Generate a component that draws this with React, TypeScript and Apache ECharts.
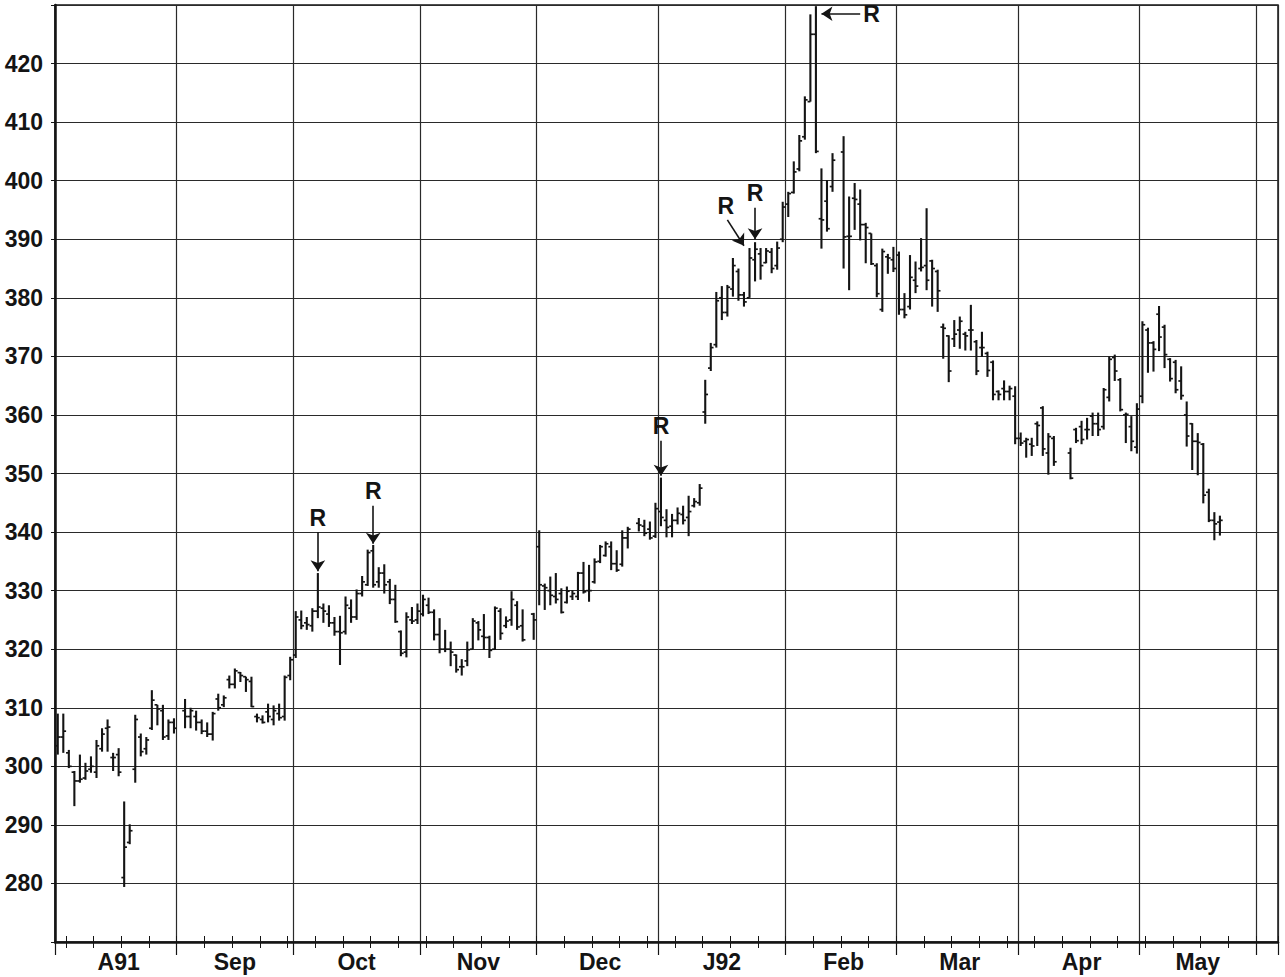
import React, { useEffect, useRef } from "react";
import * as echarts from "echarts";

type Bar = [number, number, number, number] | null; // open, high, low, close

const monthNames = ["A91", "Sep", "Oct", "Nov", "Dec", "J92", "Feb", "Mar", "Apr", "May", ""];

const aug: Bar[] = [
  [303.5, 309, 302, 305], [305, 309, 302.3, 306], [302.3, 302.8, 299.7, 300], [299, 299.2, 293.2, 297.5],
  [297.5, 302, 297.2, 297.8], [298, 300.6, 297.7, 299.2], [299.5, 301.7, 298.9, 300], [299, 304.5, 298, 303.5],
  [303, 306.5, 302.5, 305.5], [306.5, 308, 302.5, 306.7], [301.5, 302.3, 299.2, 301.5], [302, 303.1, 298.3, 299],
  [281, 294, 279.4, 286.2], [287, 290.1, 286.7, 289], [299.5, 308.8, 297.2, 308], [305, 305.6, 301.7, 302.5],
  [303, 305, 302, 304.5], [306.5, 313, 306.2, 311.3], [310.5, 310.5, 307, 309.8], [309.5, 310.5, 304.5, 305],
  [305.2, 308, 304.5, 307.5], [307.5, 308.2, 305.6, 306.5],
];
const sep: Bar[] = [
  null, [309.5, 311.5, 306.5, 308.5], [308.5, 310, 306.5, 309.5], [308.5, 309.5, 306.1, 307.5],
  [307.5, 308, 305.5, 306], [306, 307.5, 305, 305.5], [305.5, 309.3, 304.4, 309], [311.5, 312.4, 309.5, 310],
  [310.5, 312.1, 310.1, 311.7], [314.8, 315.5, 313.3, 314], [314, 316.7, 313.3, 316.3], [316, 316.1, 314.4, 315.5],
  [315.3, 315.3, 312.7, 314.8], [314.5, 315.3, 310.1, 310.2], [308.5, 309, 307.5, 308.3], [308, 308.7, 307.3, 307.5],
  [309.3, 310.7, 307.5, 308.5], [308, 310.4, 307, 309.5], [309, 310.7, 307.8, 308.3], [308.5, 315.5, 307.8, 315.2],
  [315.5, 318.7, 314.7, 318.2],
];
const oct: Bar[] = [
  [319, 326.5, 318.5, 325.5], [325, 326.6, 323.4, 324], [324.5, 325.5, 323.3, 324.2], [324, 327, 323, 326.5],
  [326.5, 333, 325.3, 327.2], [327, 327.8, 324.5, 326.5], [326, 327.5, 323.8, 324.5], [324.5, 325.5, 322.3, 323],
  [323, 325.7, 317.3, 322.8], [323, 329, 322.5, 327.5], [327, 328.5, 324.5, 325.5], [325.5, 330.2, 325, 329.5],
  [329.5, 332.5, 329, 331.5], [331, 337, 330.8, 336.5], [336.8, 337.8, 330.5, 331], [331.5, 334, 330.5, 333],
  [333, 334.5, 329.5, 331], [331.5, 332, 327.7, 328.5], [328.5, 331, 324.5, 324.7], [323, 323.2, 318.8, 319.3],
  [319.5, 326.3, 318.6, 325.5], [325, 327.2, 324.3, 324.8], [325, 327.8, 324.3, 326.5],
];
const nov: Bar[] = [
  [326, 329.3, 325.6, 328.5], [327.5, 328.8, 326, 326.3], [326.3, 326.8, 321.5, 322.5], [322.5, 325.3, 319.3, 320],
  [320, 323.3, 319.5, 320], [320, 321.3, 317.1, 319.5], [319, 319.1, 316, 316.5], [317, 318.3, 315.5, 317],
  [318, 321.3, 317.1, 319.9], [320, 325.3, 320, 324.8], [324.5, 324.8, 321.5, 323.3], [322.2, 326, 319.9, 322],
  [322, 322.3, 318.5, 319.8], [320, 327.3, 319.9, 327], [326.5, 327, 321.6, 322.7], [324, 325.6, 323.6, 324.8],
  [325, 329.9, 324, 328.5], [327.5, 328.2, 323.3, 323.8], [324, 326.8, 321.3, 321.6], null,
  [326, 326.2, 321.6, 325],
];
const dec: Bar[] = [
  [337.5, 340.3, 327.5, 331], [330.8, 331.2, 326.7, 330.5], [330, 332.4, 327.5, 329.2], [329, 333, 327.8, 328.5],
  [329.5, 330.4, 326.1, 326.3], [328, 330.7, 327.8, 329.9], [329, 330.1, 328.4, 329.5], [329, 333.2, 328.4, 333],
  [333, 334.9, 329.5, 329.8], [330, 334.4, 328.1, 330], [331.5, 335.5, 331.2, 334.9], [335, 337.8, 334.7, 337.5],
  [336, 338.4, 335.8, 338], [337.5, 338.4, 333.5, 334.6], [334.6, 336.9, 333.2, 333.5], [334.5, 340.3, 334.1, 339],
  [339, 340.9, 337.2, 340.5], null, [341.5, 342.4, 340.1, 341.2], [341, 342.1, 339.3, 339.8],
  [340.5, 341.8, 338.7, 339], [339.3, 345, 339, 344],
];
const jan: Bar[] = [
  [343.5, 349.3, 341, 342.5], [342, 343.9, 339.1, 340.8], [341, 343.1, 339.1, 342], [342, 344.2, 341.3, 343.2],
  [343, 344.5, 341.3, 342], [342.5, 346.2, 339.3, 343.5], [344.5, 345.8, 344.2, 345.2], [345, 348.2, 344.5, 347.5],
  [360.5, 366, 358.5, 363.5], [368, 372.3, 367.5, 371.5], [372, 381, 371.5, 379.5], [380, 382, 376.2, 377.5],
  [377.5, 382.2, 376.8, 381.8], [381.5, 386.8, 380.2, 385.5], [384.5, 385, 379.5, 380.5], [380.5, 381, 378.5, 379.3],
  [380, 388.5, 380, 386.8], [386.5, 389.5, 382.8, 388.3], [387.5, 388.5, 383.1, 385.5], [386, 388.5, 385.9, 388],
  [387.8, 388.5, 384.2, 385], [385.5, 389.6, 384.8, 388.5], [390, 396.4, 389.5, 395.5],
];
const feb: Bar[] = [
  [396, 398.1, 393.8, 397.8], [398, 403.3, 397.8, 401.5], [402, 407.8, 401.6, 406.8], [407.5, 414.4, 407, 413.8],
  [413.5, 428.4, 413.5, 425], [425, 429.8, 404.7, 405], [393.5, 402.1, 388.4, 393.3], [396.5, 400.1, 391.3, 391.8],
  [399, 404.7, 398.1, 403.5], null, [404.9, 407.6, 385, 390.4], [390.5, 397.3, 381.3, 390.5],
  [397, 399.6, 391.6, 396.8], [396, 398.5, 389.8, 392.5], [392.5, 392.8, 385.9, 392], [391, 391, 385.6, 385.8],
  [385.5, 385.9, 380.1, 380.7], [378, 388.4, 377.6, 387.9], [387, 387.5, 384.1, 386.8], [386.5, 388.7, 384.4, 385],
];
const mar: Bar[] = [
  [387.3, 387.9, 377.1, 378], [378, 380.8, 376.5, 377.1], [378.5, 387.3, 378, 383.5], [383, 386.2, 380.8, 382],
  [385, 390.2, 384.5, 385.2], [385.5, 395.3, 381.3, 383], [386.3, 386.5, 378.5, 385], [384.5, 384.8, 377.6, 381.2],
  [375, 375.6, 369.6, 374.8], [373.5, 373.6, 365.6, 367.5], [373, 376.2, 371.6, 373.8], [374.5, 376.8, 371.3, 376],
  [373.8, 374.2, 371, 373.5], [374.5, 378.8, 371, 374.5], [372.5, 372.8, 366.8, 367.5], [371.5, 374.2, 369.9, 371.5],
  [370.5, 370.8, 366.5, 367.6], [369, 369.3, 362.5, 363.5], [364, 364.2, 362.5, 363.5], [364.5, 365.9, 362.5, 364],
  [364, 365, 362.5, 364.5], [363.2, 364.9, 355, 356],
];
const apr: Bar[] = [
  [356, 357, 354.7, 355.2], [355.5, 356.1, 352.7, 355.8], [355, 356.1, 353, 354.7], [358.5, 358.9, 354.7, 358.2],
  [361.2, 361.5, 353, 354.2], [353.5, 356.9, 349.8, 356.3], [356, 356.4, 351.3, 352], null,
  null, [353.5, 354.4, 349, 349.2], [357.5, 357.8, 355.2, 355.6], [358, 359, 355, 355.8],
  [357.5, 359.5, 355.8, 357.5], [359.8, 360.4, 356.4, 358.5], [358.5, 360.4, 356.4, 357.5], [358, 364.6, 357.5, 364.3],
  [363, 370, 362.3, 369.5], [369.8, 370.3, 365.8, 367.5], [366, 366.3, 360.6, 360.9], [360, 360.4, 355.2, 360.1],
  [358, 359.8, 353.8, 355.5], [354.5, 362, 353.4, 361],
];
const may: Bar[] = [
  [363.2, 376, 362, 375.4], [374.5, 374.9, 367.2, 372.3], [372.3, 372.6, 367.4, 371.2], [377.2, 378.6, 370.9, 373.3],
  [375, 375.4, 368, 370.3], [369.5, 369.7, 365.7, 366.2], [369, 369.4, 363.7, 364.3], [365.8, 368.3, 362.6, 363.3],
  [360, 362.3, 354.6, 356.4], [358.5, 358.6, 350.6, 355.5], [355.5, 356.9, 349.7, 355.3], [355, 355.2, 344.9, 346.3],
  [346.8, 347.4, 341.7, 342], [342, 343.4, 338.6, 341.4], [341.7, 342.8, 339.4, 342],
  null, null, null, null, null, null,
];
const jun: Bar[] = [null, null, null, null];

// "R" annotations: arrow start [slot, value] -> arrow tip [slot, value]
const rMarks: { from: [number, number]; to: [number, number] }[] = [
  { from: [47, 340], to: [47, 333.3] },
  { from: [57, 344.5], to: [57, 338] },
  { from: [109, 355.6], to: [109, 349.6] },
  { from: [121, 393.3], to: [124, 388.9] },
  { from: [126, 395.4], to: [126, 390] },
  { from: [145, 428.5], to: [138, 428.5] },
];

const yTicks = { min: 270, max: 430, step: 10 };

const months = [aug, sep, oct, nov, dec, jan, feb, mar, apr, may, jun];

export default function App() {
  const ref = useRef<HTMLDivElement>(null);
  useEffect(() => {
    if (!ref.current) return;
    const chart = echarts.init(ref.current, undefined, { renderer: "svg" });

    const data: number[][] = [];
    const monthStarts = new Set<number>();
    const labelAt = new Map<number, string>();
    let slot = 0;
    months.forEach((m, mi) => {
      monthStarts.add(slot);
      labelAt.set(slot + Math.floor(m.length / 2), monthNames[mi]);
      m.forEach((b) => {
        if (b) data.push([slot, b[0], b[1], b[2], b[3]]);
        slot++;
      });
    });
    const total = slot;
    const categories = Array.from({ length: total }, (_, i) => String(i));
    const font = "'Liberation Sans', Arial, Helvetica, sans-serif";
    const ink = "#141414";

    const baseCat = {
      type: "category" as const,
      data: categories,
      boundaryGap: true,
      position: "bottom" as const,
    };

    chart.setOption({
      animation: false,
      backgroundColor: "#ffffff",
      grid: {
        left: 55,
        right: 7,
        top: 5,
        bottom: 35,
        show: true,
        borderColor: ink,
        borderWidth: 1.5,
        backgroundColor: "transparent",
      },
      xAxis: [
        {
          ...baseCat,
          axisLine: { show: true, lineStyle: { color: ink, width: 2.5 } },
          axisTick: {
            show: true,
            interval: (i: number) => (i - 2) % 5 === 0,
            length: 6,
            lineStyle: { color: ink, width: 1 },
          },
          axisLabel: {
            interval: (i: number) => labelAt.has(i),
            formatter: (_v: string, i: number) => labelAt.get(i) ?? "",
            fontFamily: font,
            fontWeight: "bold",
            fontSize: 23,
            color: ink,
            margin: 8,
          },
          splitLine: {
            show: true,
            interval: (i: number) => monthStarts.has(i),
            lineStyle: { color: "#2a2a2a", width: 1.2 },
          },
        },
        {
          ...baseCat,
          axisLine: { show: false },
          axisTick: {
            show: true,
            inside: true,
            interval: (i: number) => (i - 2) % 5 === 0,
            length: 6,
            lineStyle: { color: ink, width: 1 },
          },
          axisLabel: { show: false },
          splitLine: { show: false },
        },
        {
          ...baseCat,
          axisLine: { show: false },
          axisTick: {
            show: true,
            interval: (i: number) => monthStarts.has(i),
            length: 13,
            lineStyle: { color: ink, width: 1.2 },
          },
          axisLabel: { show: false },
          splitLine: { show: false },
        },
      ],
      yAxis: {
        type: "value",
        min: yTicks.min,
        max: yTicks.max,
        interval: yTicks.step,
        axisLine: { show: true, lineStyle: { color: ink, width: 2.5 } },
        axisTick: { show: true, length: 4, lineStyle: { color: ink, width: 1 } },
        axisLabel: {
          formatter: (v: number) => (v === yTicks.min || v === yTicks.max ? "" : String(v)),
          fontFamily: font,
          fontWeight: "bold",
          fontSize: 23,
          color: ink,
          margin: 12,
        },
        splitLine: { show: true, lineStyle: { color: "#2a2a2a", width: 1.1 } },
      },
      series: [
        {
          type: "custom",
          xAxisIndex: 0,
          data,
          encode: { x: 0, y: [1, 2, 3, 4] },
          renderItem: (_p: any, api: any) => {
            const x = api.value(0);
            const o = api.coord([x, api.value(1)]);
            const h = api.coord([x, api.value(2)]);
            const l = api.coord([x, api.value(3)]);
            const c = api.coord([x, api.value(4)]);
            const w = 2.8;
            return {
              type: "group",
              children: [
                { type: "line", shape: { x1: h[0], y1: h[1], x2: l[0], y2: l[1] }, style: { stroke: ink, lineWidth: 2.1 } },
                { type: "line", shape: { x1: o[0] - w, y1: o[1], x2: o[0], y2: o[1] }, style: { stroke: ink, lineWidth: 1.7 } },
                { type: "line", shape: { x1: c[0], y1: c[1], x2: c[0] + w, y2: c[1] }, style: { stroke: ink, lineWidth: 1.7 } },
              ],
            };
          },
          markLine: {
            silent: true,
            symbol: ["none", "arrow"],
            symbolSize: 11,
            lineStyle: { color: ink, width: 1.6, type: "solid" },
            itemStyle: { color: ink },
            label: {
              show: true,
              position: "start",
              formatter: "R",
              fontFamily: font,
              fontWeight: "bold",
              fontSize: 23,
              color: ink,
              distance: 3,
            },
            data: rMarks.map((r) => [
              { coord: [r.from[0], r.from[1]] },
              { coord: [r.to[0], r.to[1]] },
            ]),
          },
        },
      ],
    });
    return () => chart.dispose();
  }, []);
  return (
    <div
      ref={ref}
      style={{ position: "absolute", left: 0, top: 0, width: 1285, height: 977, background: "#fff" }}
    />
  );
}
